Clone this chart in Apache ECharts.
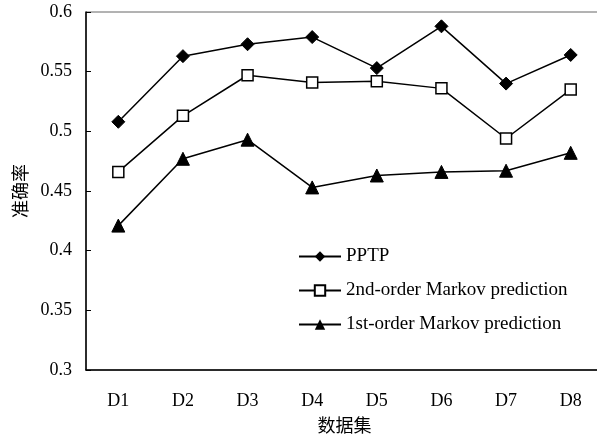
<!DOCTYPE html>
<html><head><meta charset="utf-8">
<script src="https://cdn.jsdelivr.net/npm/echarts@6/dist/echarts.min.js"></script>
<style>html,body{margin:0;padding:0;background:#fff}#c{width:597px;height:440px}</style>
</head><body><div id="c"></div>
<script>
const categories = ['D1','D2','D3','D4','D5','D6','D7','D8'];
const pptp = [0.508, 0.563, 0.573, 0.579, 0.553, 0.588, 0.540, 0.564];
const markov2 = [0.466, 0.513, 0.547, 0.541, 0.542, 0.536, 0.494, 0.535];
const markov1 = [0.421, 0.477, 0.493, 0.453, 0.463, 0.466, 0.467, 0.482];
const yTicks = {min: 0.3, max: 0.6, interval: 0.05};

const serif = 'Liberation Serif';
const chart = echarts.init(document.getElementById('c'));
const lineStyle = {color: '#000', width: 1.5};
chart.setOption({
  animation: false,
  grid: {left: 86, top: 12, width: 517, height: 358, outerBoundsMode: 'none', containLabel: false,
         show: true, borderColor: '#666', borderWidth: 1, backgroundColor: 'transparent'},
  legend: {
    orient: 'vertical', left: 293, top: 242, itemWidth: 42, itemHeight: 13, itemGap: 15,
    textStyle: {fontFamily: serif, fontSize: 19, color: '#000'},
    data: ['PPTP', '2nd-order Markov prediction', '1st-order Markov prediction']
  },
  xAxis: {
    type: 'category', data: categories, boundaryGap: true,
    name: '数据集', nameLocation: 'middle', nameGap: 46,
    nameTextStyle: {fontFamily: 'Noto Sans CJK SC', fontSize: 18, color: '#000'},
    axisLine: {lineStyle: {color: '#000', width: 1.5}},
    axisTick: {inside: true, length: 5, lineStyle: {color: '#000'}},
    axisLabel: {fontFamily: serif, fontSize: 18, color: '#000', margin: 22}
  },
  yAxis: {
    type: 'value', min: yTicks.min, max: yTicks.max, interval: yTicks.interval,
    name: '准确率', nameLocation: 'middle', nameGap: 57, nameRotate: 90,
    nameTextStyle: {fontFamily: 'Noto Sans CJK SC', fontSize: 18, color: '#000'},
    axisLine: {show: true, lineStyle: {color: '#000', width: 1.5}},
    axisTick: {show: true, inside: true, length: 5, lineStyle: {color: '#000'}},
    splitLine: {show: false},
    axisLabel: {fontFamily: serif, fontSize: 18, color: '#000', margin: 14,
      formatter: v => String(Math.round(v*100)/100)}
  },
  series: [
    {name: 'PPTP', type: 'line', data: pptp, symbol: 'diamond', symbolSize: 13,
     lineStyle: lineStyle, itemStyle: {color: '#000', borderColor: '#000'}},
    {name: '2nd-order Markov prediction', type: 'line', data: markov2, symbol: 'rect', symbolSize: 11,
     lineStyle: lineStyle, itemStyle: {color: '#fff', borderColor: '#000', borderWidth: 1.5}},
    {name: '1st-order Markov prediction', type: 'line', data: markov1, symbol: 'triangle', symbolSize: 13,
     lineStyle: lineStyle, itemStyle: {color: '#000', borderColor: '#000'}}
  ]
});
</script></body></html>
